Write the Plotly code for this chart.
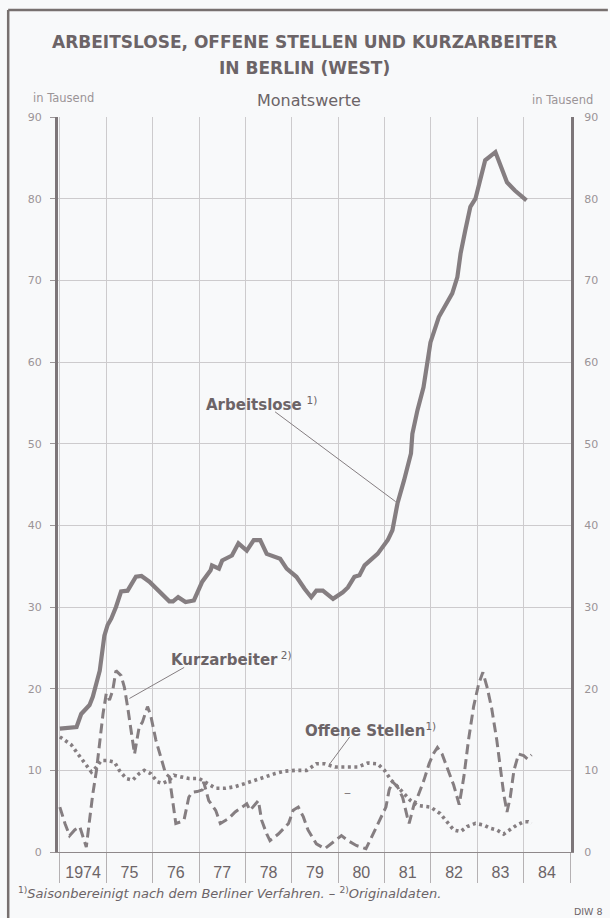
import plotly.graph_objects as go

# ---------------- data (decimal years, thousands) ----------------
arb_x = [1974.00, 1974.36, 1974.46, 1974.64, 1974.71, 1974.86, 1974.96, 1975.03, 1975.11, 1975.21,
         1975.32, 1975.46, 1975.64, 1975.76, 1975.93, 1976.10, 1976.23, 1976.36, 1976.44, 1976.55,
         1976.71, 1976.89, 1977.07, 1977.25, 1977.28, 1977.43, 1977.50, 1977.71, 1977.85, 1978.03,
         1978.18, 1978.32, 1978.46, 1978.75, 1978.89, 1979.10, 1979.28, 1979.42, 1979.53, 1979.67,
         1979.89, 1980.10, 1980.21, 1980.35, 1980.46, 1980.57, 1980.85, 1981.07, 1981.17, 1981.28,
         1981.42, 1981.57, 1981.60, 1981.71, 1981.84, 1981.92, 1981.99, 1982.17, 1982.46, 1982.57,
         1982.64, 1982.74, 1982.85, 1982.96, 1983.10, 1983.17, 1983.39, 1983.49, 1983.64, 1983.81,
         1984.06]
arb_y = [15.1, 15.3, 16.9, 18.0, 19.0, 22.2, 26.5, 27.8, 28.6, 30.0,
         31.9, 32.0, 33.7, 33.8, 33.1, 32.2, 31.5, 30.7, 30.7, 31.2,
         30.6, 30.8, 33.1, 34.5, 35.1, 34.7, 35.7, 36.3, 37.8, 36.9,
         38.2, 38.2, 36.5, 35.9, 34.7, 33.7, 32.2, 31.2, 32.0, 32.0,
         31.0, 31.8, 32.4, 33.7, 33.9, 35.1, 36.5, 38.2, 39.4, 42.7,
         45.5, 48.8, 51.2, 54.1, 56.9, 59.8, 62.4, 65.5, 68.4, 70.4,
         73.3, 76.1, 79.0, 80.0, 83.1, 84.7, 85.7, 84.3, 82.0, 81.0,
         79.8]

kurz_x = [1974.00, 1974.11, 1974.21, 1974.32, 1974.43, 1974.50, 1974.57, 1974.64, 1974.71, 1974.79,
          1974.86, 1974.93, 1975.00, 1975.07, 1975.14, 1975.21, 1975.32, 1975.39, 1975.46, 1975.54,
          1975.61, 1975.71, 1975.78, 1975.89, 1975.96, 1976.07, 1976.18, 1976.28, 1976.36, 1976.43,
          1976.50, 1976.61, 1976.68, 1976.78, 1976.85, 1976.96, 1977.07, 1977.10, 1977.21, 1977.36,
          1977.46, 1977.64, 1977.78, 1977.93, 1978.03, 1978.10, 1978.28, 1978.35, 1978.46, 1978.53,
          1978.71, 1978.93, 1979.03, 1979.14, 1979.25, 1979.35, 1979.53, 1979.71, 1979.89, 1980.07,
          1980.21, 1980.39, 1980.60, 1980.75, 1980.89, 1981.03, 1981.10, 1981.17, 1981.28, 1981.39,
          1981.49, 1981.53, 1981.64, 1981.71, 1981.85, 1981.96, 1982.05, 1982.14, 1982.24, 1982.35,
          1982.49, 1982.61, 1982.71, 1982.81, 1982.92, 1983.03, 1983.12, 1983.21, 1983.31, 1983.42,
          1983.49, 1983.57, 1983.64, 1983.71, 1983.79, 1983.89, 1984.00, 1984.08, 1984.17]
kurz_y = [5.5, 3.5, 2.0, 2.7, 3.1, 1.8, 0.6, 3.9, 7.1, 10.0,
          13.7, 16.9, 19.4, 18.6, 19.8, 22.2, 21.6, 20.2, 17.8, 14.5,
          12.0, 15.3, 15.9, 17.8, 16.7, 13.7, 11.6, 9.6, 9.2, 6.3,
          3.5, 3.7, 4.0, 6.7, 7.3, 7.4, 7.6, 8.6, 6.3, 5.1,
          3.5, 4.1, 4.9, 5.5, 5.9, 5.1, 6.3, 3.9, 2.2, 1.4,
          2.2, 3.5, 5.1, 5.5, 4.3, 2.7, 1.0, 0.4, 1.2, 2.0,
          1.4, 0.8, 0.4, 2.2, 3.9, 5.5, 7.6, 8.6, 8.0, 6.7,
          4.3, 3.5, 5.9, 6.7, 8.8, 10.8, 12.0, 12.8, 12.0, 10.4,
          8.2, 5.8, 9.2, 13.7, 17.8, 20.6, 22.0, 20.2, 17.6, 13.7,
          10.4, 7.1, 4.9, 6.7, 10.0, 12.0, 11.8, 11.4, 11.9]

off_x = [1974.00, 1974.11, 1974.25, 1974.39, 1974.54, 1974.68, 1974.79, 1974.89, 1975.03, 1975.18,
         1975.28, 1975.43, 1975.57, 1975.71, 1975.82, 1975.96, 1976.10, 1976.21, 1976.36, 1976.46,
         1976.61, 1976.78, 1977.00, 1977.18, 1977.36, 1977.57, 1977.78, 1978.00, 1978.21, 1978.43,
         1978.64, 1978.85, 1979.07, 1979.32, 1979.53, 1979.71, 1979.93, 1980.21, 1980.42, 1980.64,
         1980.85, 1981.00, 1981.14, 1981.28, 1981.42, 1981.56, 1981.71, 1981.99, 1982.20, 1982.35,
         1982.49, 1982.64, 1982.78, 1982.96, 1983.14, 1983.28, 1983.42, 1983.57, 1983.71, 1983.85,
         1984.00, 1984.10, 1984.17]
off_y = [14.1, 13.7, 13.1, 12.0, 10.8, 9.8, 10.4, 11.2, 11.2, 11.0,
         10.0, 9.0, 8.8, 9.6, 10.0, 9.6, 8.6, 8.4, 8.8, 9.4,
         9.2, 9.0, 9.0, 8.4, 7.8, 7.8, 8.0, 8.4, 8.8, 9.2,
         9.6, 9.9, 10.0, 10.0, 10.8, 10.8, 10.4, 10.4, 10.4, 10.9,
         10.8, 10.0, 8.8, 8.0, 7.1, 6.3, 5.7, 5.5, 4.7, 3.7,
         2.7, 2.5, 3.1, 3.5, 3.3, 2.9, 2.7, 2.2, 2.7, 3.3,
         3.7, 3.7, 3.5]

years = list(range(1974, 1985))
year_labels = ["1974", "75", "76", "77", "78", "79", "80", "81", "82", "83", "84"]
y_ticks = list(range(0, 100, 10))

# ---------------- styling ----------------
INK = "#857e81"
TXT = "#6c6467"
LIGHT = "#9b9497"
GRID = "#cdcbcd"
BG = "#f8f9fa"


def px_x(p):
    return (p - 58) / 515


def px_y(p):
    return (852 - p) / 735


fig = go.Figure()
fig.add_trace(go.Scatter(x=off_x, y=off_y, mode="lines", name="Offene Stellen",
                         line=dict(color=INK, width=3.6, dash="3px,3.5px"), yaxis="y2"))
fig.add_trace(go.Scatter(x=kurz_x, y=kurz_y, mode="lines", name="Kurzarbeiter",
                         line=dict(color=INK, width=3, dash="10px,5px")))
fig.add_trace(go.Scatter(x=arb_x, y=arb_y, mode="lines", name="Arbeitslose",
                         line=dict(color=INK, width=4.2)))

fig.update_layout(
    width=610, height=918,
    margin=dict(l=58, r=37, t=117, b=66),
    paper_bgcolor=BG, plot_bgcolor=BG,
    showlegend=False,
    font=dict(family="Liberation Sans", color=TXT),
    xaxis=dict(
        range=[1973.96, 1985.02],
        tickmode="array",
        tickvals=[y + 0.5 for y in years],
        ticktext=year_labels,
        ticks="outside", ticklen=6, tickcolor="rgba(0,0,0,0)",
        tickfont=dict(family="Liberation Sans", size=16, color=TXT),
        showgrid=False, zeroline=False,
        showline=True, linecolor="#8f898b", linewidth=1,
        minor=dict(tickmode="array", tickvals=years + [1985], ticks="outside",
                   ticklen=30, tickcolor="#b5b1b3", tickwidth=1,
                   showgrid=True, gridcolor=GRID, gridwidth=1),
    ),
    yaxis=dict(
        range=[0, 90], tickmode="array", tickvals=y_ticks,
        ticks="outside", ticklen=5, tickcolor="#9d9799",
        ticklabelstandoff=6,
        tickfont=dict(family="DejaVu Sans", size=11, color=LIGHT),
        showgrid=True, gridcolor=GRID, gridwidth=1, zeroline=False,
        showline=True, linecolor="#7d7679", linewidth=3,
    ),
    yaxis2=dict(
        range=[0, 90], tickmode="array", tickvals=y_ticks,
        overlaying="y", side="right",
        ticks="", ticklabelstandoff=8,
        tickfont=dict(family="DejaVu Sans", size=11, color=LIGHT),
        showgrid=False, zeroline=False,
        showline=True, linecolor="#7d7679", linewidth=3,
    ),
)

# Titles and header texts
ann = []
ann.append(dict(text="<b>ARBEITSLOSE, OFFENE STELLEN UND KURZARBEITER</b>",
                xref="paper", yref="paper", x=px_x(305), y=px_y(42),
                xanchor="center", yanchor="middle", showarrow=False,
                font=dict(family="DejaVu Sans", size=17, color=TXT)))
ann.append(dict(text="<b>IN BERLIN (WEST)</b>",
                xref="paper", yref="paper", x=px_x(305), y=px_y(68),
                xanchor="center", yanchor="middle", showarrow=False,
                font=dict(family="DejaVu Sans", size=17, color=TXT)))
ann.append(dict(text="Monatswerte", xref="paper", yref="paper", x=px_x(310),
                y=px_y(100), xanchor="center", yanchor="middle", showarrow=False,
                font=dict(family="DejaVu Sans", size=16, color=TXT)))
ann.append(dict(text="in Tausend", xref="paper", yref="paper", x=px_x(31),
                y=px_y(98), xanchor="left", yanchor="middle", showarrow=False,
                font=dict(family="DejaVu Sans", size=11.5, color=LIGHT)))
ann.append(dict(text="in Tausend", xref="paper", yref="paper", x=px_x(597),
                y=px_y(100), xanchor="right", yanchor="middle", showarrow=False,
                font=dict(family="DejaVu Sans", size=11.5, color=LIGHT)))
# Series labels
ann.append(dict(text="<b>Arbeitslose</b> <sup>1)</sup>", x=1977.10, y=54.9, xanchor="left",
                yanchor="middle", showarrow=False,
                font=dict(family="DejaVu Sans", size=15, color=TXT)))
ann.append(dict(text="<b>Kurzarbeiter</b><sup> 2)</sup>", x=1976.36, y=23.6, xanchor="left",
                yanchor="middle", showarrow=False,
                font=dict(family="DejaVu Sans", size=15, color=TXT)))
ann.append(dict(text="<b>Offene Stellen</b><sup>1)</sup>", x=1979.25, y=14.9, xanchor="left",
                yanchor="middle", showarrow=False,
                font=dict(family="DejaVu Sans", size=15, color=TXT)))
ann.append(dict(text="–", x=1980.21, y=7.3, showarrow=False,
                font=dict(family="DejaVu Sans", size=14, color=INK)))
# Footnote
ann.append(dict(text="<sup>1)</sup><i>Saisonbereinigt nach dem Berliner Verfahren. – </i><sup>2)</sup><i>Originaldaten.</i>",
                xref="paper", yref="paper", x=px_x(16), y=px_y(893),
                xanchor="left", yanchor="middle", showarrow=False,
                font=dict(family="DejaVu Sans", size=13, color=TXT)))
ann.append(dict(text="DIW 8", xref="paper", yref="paper", x=px_x(607),
                y=px_y(911), xanchor="right", yanchor="middle", showarrow=False,
                font=dict(family="DejaVu Sans", size=9.5, color=TXT)))
fig.update_layout(annotations=ann)

# Leader lines and frame
shapes = [
    dict(type="line", xref="x", yref="y", x0=1978.64, y0=53.9, x1=1981.24, y1=42.9,
         line=dict(color=INK, width=1)),
    dict(type="line", xref="x", yref="y", x0=1976.68, y0=22.6, x1=1975.50, y1=18.8,
         line=dict(color=INK, width=1)),
    dict(type="line", xref="x", yref="y", x0=1980.25, y0=14.1, x1=1979.82, y1=10.8,
         line=dict(color=INK, width=1)),
    dict(type="line", xref="paper", yref="paper", x0=px_x(8), y0=px_y(10),
         x1=px_x(610), y1=px_y(10), line=dict(color="#77706f", width=2.5)),
    dict(type="line", xref="paper", yref="paper", x0=px_x(8), y0=px_y(10),
         x1=px_x(8), y1=px_y(918), line=dict(color="#77706f", width=2.5)),
]
fig.update_layout(shapes=shapes)

fig.write_html("out.html",
               config={"displayModeBar": False},
               post_script="document.body.style.margin='0px';document.body.style.overflow='hidden';")
